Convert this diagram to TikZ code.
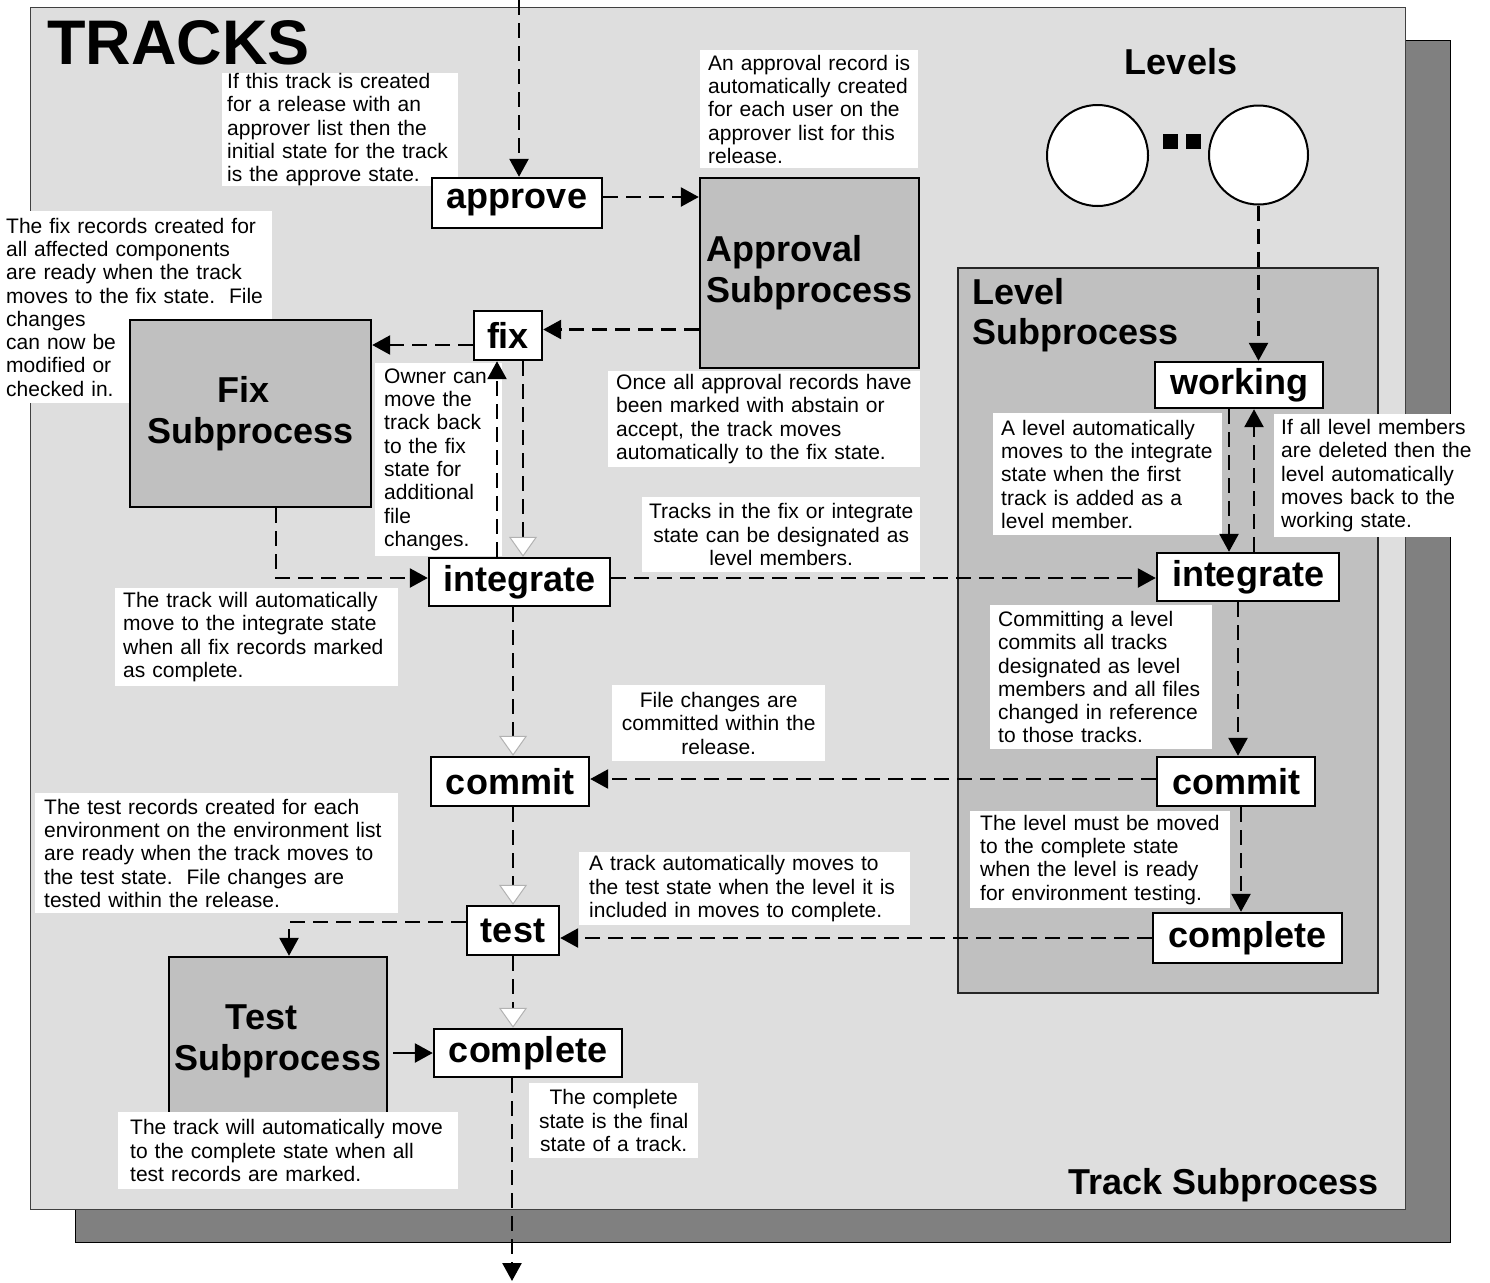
\documentclass[tikz,border=0pt]{standalone}
\usepackage{fontspec}
\setmainfont{Liberation Sans}
\usetikzlibrary{arrows.meta}

\definecolor{panel}{HTML}{DEDEDE}
\definecolor{shadowgray}{HTML}{808080}
\definecolor{subgray}{HTML}{C0C0C0}

\begin{document}
\begin{tikzpicture}[x=1pt,y=-1pt,
  note/.style={font=\fontsize{21}{23.3}\selectfont, fill=white, anchor=north west,
    inner ysep=0pt, align=left},
  cnote/.style={note, align=center},
  state/.style={draw=black, line width=2.4pt, fill=white, inner sep=0pt,
    font=\fontsize{36}{40}\selectfont\bfseries},
  subproc/.style={draw=black, line width=2.4pt, fill=subgray, inner sep=0pt,
    font=\fontsize{36}{41}\selectfont\bfseries},
  heading/.style={inner sep=0pt, font=\fontsize{36}{40}\selectfont\bfseries},
  conn/.style={line width=2.6pt, dash pattern=on 15pt off 8pt,
    -{Triangle[length=18pt,width=19pt]}},
  connw/.style={line width=2.6pt, dash pattern=on 15pt off 8pt,
    -{Triangle[length=20pt,width=28pt,fill=white,color=gray!60,line width=1pt]}},
  connsolid/.style={line width=2.6pt, -{Triangle[length=18pt,width=19pt]}},
]
\useasboundingbox (0,0) rectangle (1490,1282);
\fill[white] (0,0) rectangle (1490,1282);

% frame with drop shadow
\draw[fill=shadowgray, draw=black, line width=1pt] (75,40) rectangle (1450,1242);
\draw[fill=panel, draw=black!75, line width=1pt] (30,7) rectangle (1405,1209);

\node[anchor=base west, inner sep=0pt, text depth=0pt,
  font=\fontsize{63}{63}\selectfont\bfseries] (title) at (47,64) {TRACKS};
\node[heading, anchor=base west] (trksub) at (1068,1194) {Track Subprocess};

% levels
\node[heading, anchor=base] (levels) at (1181,74) {Levels};
\node[circle, draw=black, line width=2pt, fill=white, minimum size=101, inner sep=0pt]
  (lv1) at (1097.5,155.5) {};
\node[circle, draw=black, line width=2pt, fill=white, minimum size=99, inner sep=0pt]
  (lv2) at (1258.5,155) {};
\node[fill=black, minimum size=15, inner sep=0pt] (dot1) at (1170.5,141.5) {};
\node[fill=black, minimum size=15, inner sep=0pt] (dot2) at (1193.5,141.5) {};

% level subprocess container
\node[draw=black!85, line width=2pt, fill=subgray, minimum width=420, minimum height=725,
  inner sep=0pt] (lvlsub) at (1168,630.5) {};
\node[heading, anchor=north west, align=left] (lvllabel) at (972,278)
  {Level\\Subprocess};

% notes
\node[note, inner xsep=5pt, text width=226, minimum height=111] (n1) at (222,73)
  {If this track is created\\for a release with an\\approver list then the\\initial state for the track\\is the approve state.};
\node[note, inner xsep=8pt, text width=202, minimum height=118] (n2) at (700,50)
  {An approval record is\\automatically created\\for each user on the\\approver list for this\\release.};
\node[note, inner xsep=6pt, text width=260, minimum height=192] (n3) at (0,211)
  {The fix records created for\\all affected components\\are ready when the track\\moves to the fix state.\ \ File\\changes\\can now be\\modified or\\checked in.};
\node[note, inner xsep=9pt, text width=109, minimum height=193] (n4) at (375,363)
  {Owner can\\move the\\track back\\to the fix\\state for\\additional\\file\\changes.};
\node[note, inner xsep=8pt, text width=296, minimum height=96] (n5) at (608,371)
  {Once all approval records have\\been marked with abstain or\\accept, the track moves\\automatically to the fix state.};
\node[cnote, inner xsep=6pt, text width=266, minimum height=75] (n6) at (642,497)
  {Tracks in the fix or integrate\\state can be designated as\\level members.};
\node[note, inner xsep=8pt, text width=267, minimum height=98] (n7) at (115,588)
  {The track will automatically\\move to the integrate state\\when all fix records marked\\as complete.};
\node[note, inner xsep=8pt, text width=213, minimum height=122] (n8) at (993,413)
  {A level automatically\\moves to the integrate\\state when the first\\track is added as a\\level member.};
\node[note, inner xsep=7pt, text width=192, minimum height=123] (n9) at (1274,414)
  {If all level members\\are deleted then the\\level automatically\\moves back to the\\working state.};
\node[note, inner xsep=8pt, text width=206, minimum height=144] (n10) at (990,605)
  {Committing a level\\commits all tracks\\designated as level\\members and all files\\changed in reference\\to those tracks.};
\node[cnote, inner xsep=6pt, text width=201, minimum height=76] (n11) at (612,685)
  {File changes are\\committed within the\\release.};
\node[note, inner xsep=10pt, text width=240, minimum height=97] (n12) at (970,811)
  {The level must be moved\\to the complete state\\when the level is ready\\for environment testing.};
\node[note, inner xsep=10pt, text width=311, minimum height=73] (n13) at (579,852)
  {A track automatically moves to\\the test state when the level it is\\included in moves to complete.};
\node[note, inner xsep=9pt, text width=345, minimum height=120] (n14) at (35,793)
  {The test records created for each\\environment on the environment list\\are ready when the track moves to\\the test state.\ \ File changes are\\tested within the release.};
\node[cnote, inner xsep=6pt, text width=157, minimum height=75] (n15) at (529,1083)
  {The complete\\state is the final\\state of a track.};

% subprocess boxes
\node[subproc, align=left, minimum width=219, minimum height=190] (apsub) at (809.5,273)
  {Approval\\Subprocess};
\node[subproc, align=center, minimum width=241, minimum height=187] (fixsub) at (250.5,413.5)
  {Fix\hspace*{14pt}\\Subprocess};
\node[subproc, align=center, minimum width=218, minimum height=168] (testsub) at (278,1041)
  {Test\hspace*{33pt}\\Subprocess};

% note lying over the test subprocess box
\node[note, inner xsep=12pt, text width=316, minimum height=77] (n16) at (118,1112)
  {The track will automatically move\\to the complete state when all\\test records are marked.};

% track states
\node[state, minimum width=170, minimum height=50] (approve) at (517,203) {approve};
\node[state, minimum width=68, minimum height=49] (fix) at (508,335.5) {fix};
\node[state, minimum width=181, minimum height=48] (integ) at (519.5,582) {integrate};
\node[state, minimum width=158, minimum height=49] (commit) at (510,781.5) {commit};
\node[state, minimum width=92, minimum height=49] (test) at (513,930.5) {test};
\node[state, minimum width=188, minimum height=48] (ctrk) at (528,1053) {complete};

% level states
\node[state, minimum width=168, minimum height=46] (working) at (1239,385) {working};
\node[state, minimum width=182, minimum height=48] (linteg) at (1248,577) {integrate};
\node[state, minimum width=158, minimum height=49] (lcommit) at (1236,781.5) {commit};
\node[state, minimum width=189, minimum height=50] (lcomp) at (1247.5,938) {complete};

% connectors
\coordinate (entry) at (519,0);
\coordinate (exit) at (512,1281);
\coordinate (spine) at (513,0);
\draw[conn] (entry) -- (entry |- approve.north);

\coordinate (a1) at ([yshift=6pt]approve.east);
\draw[conn] (a1) -- (a1 -| apsub.west);

\coordinate (f1) at ([yshift=6pt]fix.east);
\draw[conn] (f1 -| apsub.west) -- (f1);
\coordinate (f2) at ([yshift=-9.5pt]fix.west);
\draw[conn] (f2) -- (f2 -| fixsub.east);
\coordinate (f3) at ([xshift=15pt]fix.south);
\draw[connw] (f3) -- (f3 |- integ.north);
\coordinate (f4) at ([xshift=-11pt]fix.south);
\draw[conn] (f4 |- integ.north) -- (f4);
\coordinate (f5) at ([xshift=25.5pt]fixsub.south);
\coordinate (i1) at ([yshift=4pt]integ.west);
\draw[conn] (f5) |- (i1);
\coordinate (i2) at ([yshift=4pt]integ.east);
\draw[conn] (i2) -- (i2 -| linteg.west);

\draw[connw] (spine |- integ.south) -- (spine |- commit.north);
\draw[connw] (spine |- commit.south) -- (spine |- test.north);
\draw[connw] (spine |- test.south) -- (spine |- ctrk.north);
\draw[conn] (exit |- ctrk.south) -- (exit);

\draw[conn] (lv2.south) -- (lv2.south |- working.north);
\coordinate (w1) at (1229,0);
\coordinate (w2) at (1254,0);
\coordinate (w3) at (1238,0);
\coordinate (w4) at (1241,0);
\draw[conn] (w1 |- working.south) -- (w1 |- linteg.north);
\draw[conn] (w2 |- linteg.north) -- (w2 |- working.south);
\draw[conn] (w3 |- linteg.south) -- (w3 |- lcommit.north);
\draw[conn] (w4 |- lcommit.south) -- (w4 |- lcomp.north);

\coordinate (m1) at ([yshift=2.5pt]lcommit.west);
\draw[conn] (m1) -- (m1 -| commit.east);
\draw[conn] (lcomp.west) -- (lcomp.west -| test.east);

\coordinate (t1) at ([yshift=8.5pt]test.west);
\coordinate (t2) at ([xshift=11pt]testsub.north);
\draw[conn] (t1) -| (t2);
\coordinate (c1) at (ctrk.west -| testsub.east);
\draw[connsolid] ([xshift=5pt]c1) -- (ctrk.west);
\end{tikzpicture}
\end{document}
